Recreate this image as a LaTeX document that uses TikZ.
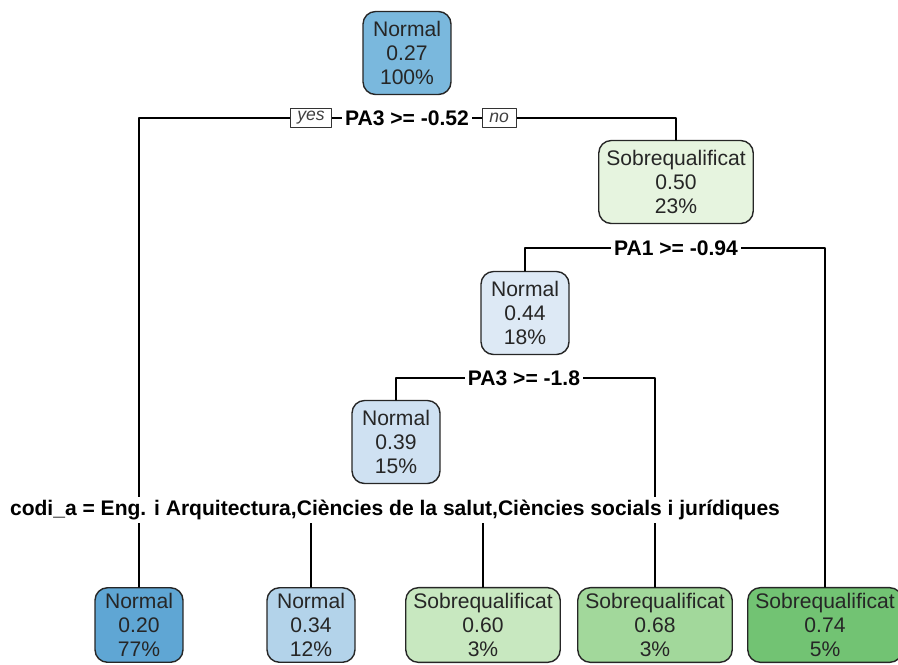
\documentclass[tikz,border=0pt]{standalone}
\usepackage{fontspec}
\setmainfont{Liberation Sans}
\usetikzlibrary{positioning}
\definecolor{cA}{HTML}{7AB8DD}
\definecolor{cB}{HTML}{5FA6D4}
\definecolor{cC}{HTML}{B3D3EA}
\definecolor{cD}{HTML}{DDE9F5}
\definecolor{cE}{HTML}{CFE1F2}
\definecolor{cF}{HTML}{E6F4DF}
\definecolor{cG}{HTML}{C8E8C0}
\definecolor{cH}{HTML}{A2D89B}
\definecolor{cI}{HTML}{72C373}
\begin{document}
\begin{tikzpicture}[x=0.02cm,y=-0.02cm,line cap=round,line join=round,
	box/.style={draw=black!85,line width=0.8pt,rounded corners=0.25cm,align=center,text=black!85,
		font=\fontsize{12}{13.5}\selectfont,inner xsep=0.15cm,minimum width=1.76cm},
	inner/.style={box,minimum height=1.66cm},
	leaf/.style={box,minimum height=1.46cm},
	edge/.style={line width=0.9pt},
	split/.style={fill=white,inner sep=1.5pt,font=\bfseries\fontsize{12}{13}\selectfont},
	yesno/.style={draw=black!80,fill=white,line width=0.5pt,inner xsep=4pt,inner ysep=1pt,
		minimum height=0.38cm,text=black!75,font=\itshape\fontsize{10}{11}\selectfont}]
	\useasboundingbox (0,0) rectangle (898,664);
	\node[inner,fill=cA] (n1) at (407,53) {Normal\\0.27\\100\%};
	\node[inner,fill=cF] (n3) at (676,182) {Sobrequalificat\\0.50\\23\%};
	\node[inner,fill=cD] (n6) at (525,313) {Normal\\0.44\\18\%};
	\node[inner,fill=cE] (n12) at (396,442) {Normal\\0.39\\15\%};
	\node[leaf,fill=cB] (n2) at (139,625) {Normal\\0.20\\77\%};
	\node[leaf,fill=cC] (n24) at (311,625) {Normal\\0.34\\12\%};
	\node[leaf,fill=cG] (n25) at (483,625) {Sobrequalificat\\0.60\\3\%};
	\node[leaf,fill=cH] (n13) at (655,625) {Sobrequalificat\\0.68\\3\%};
	\node[leaf,fill=cI] (n7) at (825,625) {Sobrequalificat\\0.74\\5\%};
	\coordinate (s1) at (407,118);
	\coordinate (s3) at (676,248);
	\coordinate (s6) at (524,378);
	\coordinate (s12) at (395,510);
	\draw[edge] (n2.north) |- (s1) -| (n3.north);
	\draw[edge] (n6.north) |- (s3) -| (n7.north);
	\draw[edge] (n12.north) |- (s6) -| (n13.north);
	\draw[edge] (n24.north) |- (s12) -| (n25.north);
	\node[split] (l1) at (s1) {PA3 >= -0.52};
	\node[yesno,left=0.2cm of l1] (y1) {yes};
	\node[yesno,right=0.2cm of l1] (no1) {no};
	\node[split] (l3) at (s3) {PA1 >= -0.94};
	\node[split] (l6) at (s6) {PA3 >= -1.8};
	\node[split] (l12) at (s12) {\resizebox{15.4cm}{\height}{codi\_a = Eng. i Arquitectura,Ciències de la salut,Ciències socials i jurídiques}};
\end{tikzpicture}
\end{document}
